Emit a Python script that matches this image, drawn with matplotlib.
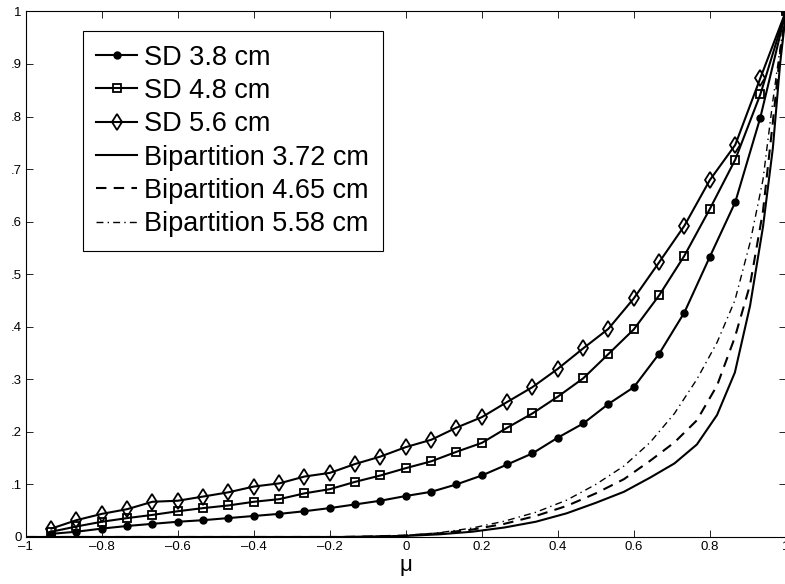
import matplotlib
matplotlib.use("Agg")
import matplotlib.pyplot as plt

plt.rcParams["font.family"] = ["Liberation Sans", "DejaVu Sans"]

# SD curves: sampled every 1/15 in mu
MU_SD = [-0.933, -0.867, -0.8, -0.733, -0.667, -0.6, -0.533, -0.467, -0.4, -0.333,
         -0.267, -0.2, -0.133, -0.067, 0.0, 0.067, 0.133, 0.2, 0.267, 0.333,
         0.4, 0.467, 0.533, 0.6, 0.667, 0.733, 0.8, 0.867, 0.933, 1.0]
SD_38 = [0.006, 0.010, 0.016, 0.021, 0.025, 0.029, 0.032, 0.036, 0.040, 0.044,
         0.049, 0.055, 0.062, 0.069, 0.078, 0.086, 0.100, 0.117, 0.138, 0.159,
         0.189, 0.216, 0.253, 0.285, 0.349, 0.427, 0.533, 0.637, 0.798, 1.0]
SD_48 = [0.010, 0.020, 0.029, 0.036, 0.042, 0.049, 0.055, 0.060, 0.067, 0.072,
         0.083, 0.091, 0.105, 0.117, 0.131, 0.144, 0.162, 0.179, 0.208, 0.235,
         0.267, 0.302, 0.348, 0.395, 0.460, 0.535, 0.624, 0.718, 0.842, 1.0]
SD_56 = [0.016, 0.032, 0.044, 0.053, 0.067, 0.069, 0.077, 0.085, 0.096, 0.102,
         0.115, 0.122, 0.139, 0.153, 0.171, 0.185, 0.208, 0.228, 0.257, 0.285,
         0.320, 0.359, 0.396, 0.454, 0.523, 0.592, 0.679, 0.746, 0.873, 1.0]

# Bipartition curves: denser near mu = 1
MU_BP = [-1.0, -0.996, -0.985, -0.966, -0.940, -0.906, -0.866, -0.819, -0.766,
         -0.707, -0.643, -0.574, -0.5, -0.423, -0.342, -0.259, -0.174, -0.087,
         0.0, 0.087, 0.174, 0.259, 0.342, 0.423, 0.5, 0.574, 0.643, 0.707,
         0.766, 0.819, 0.866, 0.906, 0.940, 0.966, 0.985, 0.996, 1.0]
BP_372 = [0.0, 0.0, 0.0, 0.0, 0.0, 0.0, 0.0, 0.0, 0.0,
          0.0, 0.0, 0.0, 0.0, 0.0, 0.0, 0.0, 0.0, 0.001,
          0.002, 0.005, 0.010, 0.018, 0.029, 0.045, 0.065, 0.086, 0.113, 0.140,
          0.176, 0.232, 0.313, 0.440, 0.590, 0.740, 0.900, 0.970, 1.0]
BP_465 = [0.0, 0.0, 0.0, 0.0, 0.0, 0.0, 0.0, 0.0, 0.0,
          0.0, 0.0, 0.0, 0.0, 0.0, 0.0, 0.0, 0.0, 0.001,
          0.003, 0.007, 0.014, 0.025, 0.040, 0.059, 0.083, 0.110, 0.145, 0.180,
          0.222, 0.288, 0.380, 0.480, 0.620, 0.790, 0.920, 0.975, 1.0]
BP_558 = [0.0, 0.0, 0.0, 0.0, 0.0, 0.0, 0.0, 0.0, 0.0,
          0.0, 0.0, 0.0, 0.0, 0.0, 0.0, 0.0, 0.0, 0.001,
          0.003, 0.008, 0.017, 0.030, 0.047, 0.070, 0.100, 0.135, 0.180, 0.235,
          0.300, 0.370, 0.450, 0.560, 0.680, 0.830, 0.930, 0.980, 1.0]

X_TICKS = [-1, -0.8, -0.6, -0.4, -0.2, 0, 0.2, 0.4, 0.6, 0.8, 1]
X_LABELS = ["\u20131", "\u20130.8", "\u20130.6", "\u20130.4", "\u20130.2", "0",
            "0.2", "0.4", "0.6", "0.8", "1"]
Y_TICKS = [0, 0.1, 0.2, 0.3, 0.4, 0.5, 0.6, 0.7, 0.8, 0.9, 1]
Y_LABELS = ["0", ".1", ".2", ".3", ".4", ".5", ".6", ".7", ".8", ".9", "1"]


def main():
    fig = plt.figure(figsize=(7.85, 5.84), dpi=100)
    ax = fig.add_axes([0.033, 0.0805, 0.968, 0.9])

    lw = 1.5
    ax.plot(MU_SD, SD_38, "k-", marker="o", ms=5, lw=lw, label="SD 3.8 cm")
    ax.plot(MU_SD, SD_48, "k-", marker="s", ms=5.5, mfc="none", mew=1.3, lw=lw,
            label="SD 4.8 cm")
    ax.plot(MU_SD, SD_56, "k-", marker="d", ms=8, mfc="none", mew=1.3, lw=lw,
            label="SD 5.6 cm")
    ax.plot(MU_BP, BP_372, "k-", lw=lw, label="Bipartition 3.72 cm")
    ax.plot(MU_BP, BP_465, "k--", lw=lw, dashes=(5, 3.5), label="Bipartition 4.65 cm")
    ax.plot(MU_BP, BP_558, "k-.", lw=1.0, dashes=(5, 3, 1, 3),
            label="Bipartition 5.58 cm")

    ax.set_xlim(-1, 1)
    ax.set_ylim(0, 1)
    ax.set_xticks(X_TICKS)
    ax.set_xticklabels(X_LABELS)
    ax.set_yticks(Y_TICKS)
    ax.set_yticklabels(Y_LABELS)
    ax.tick_params(direction="in", length=5, width=0.6, labelsize=9.5,
                   top=True, right=True, pad=3)
    for sp in ax.spines.values():
        sp.set_linewidth(0.8)

    ax.set_xlabel("\u03bc", fontsize=16, labelpad=1)

    leg = ax.legend(loc="upper left", bbox_to_anchor=(0.075, 0.9625),
                    borderaxespad=0, fontsize=19.5, fancybox=False, framealpha=1,
                    handlelength=1.5, handletextpad=0.27, labelspacing=0.27,
                    borderpad=0.5)
    leg.get_frame().set_edgecolor("black")
    leg.get_frame().set_linewidth(0.8)

    fig.savefig("out.png", dpi=100)


if __name__ == "__main__":
    main()
